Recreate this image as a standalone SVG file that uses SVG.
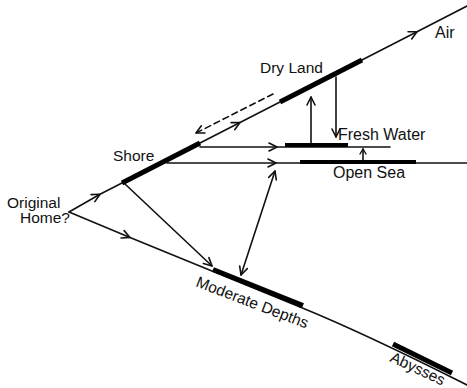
<svg xmlns="http://www.w3.org/2000/svg" width="467" height="388" viewBox="0 0 467 388">
<style>
.ln{fill:none;stroke:#111;stroke-width:1.6;stroke-linecap:round;stroke-linejoin:round}
.bar{fill:none;stroke:#000;stroke-width:5;stroke-linecap:butt}
.dash{stroke-dasharray:6 4}
text{font-family:"Liberation Sans","DejaVu Sans",sans-serif;font-size:15.5px;fill:#111}
.big{font-size:16px}
</style>
<defs>
<marker id="ah" markerUnits="userSpaceOnUse" markerWidth="12" markerHeight="12" refX="0" refY="0" viewBox="-10 -6 12 12" orient="auto-start-reverse" overflow="visible">
<path d="M-8,-4 L0,0 L-8,4" fill="none" stroke="#111" stroke-width="1.6" stroke-linecap="round" stroke-linejoin="round"/>
</marker>
<marker id="ahs" markerUnits="userSpaceOnUse" markerWidth="8" markerHeight="8" viewBox="-6 -4 8 8" orient="auto" overflow="visible">
<path d="M-5,-3 L0,0 L-5,3" fill="none" stroke="#111" stroke-width="1.4" stroke-linecap="round"/>
</marker>
</defs>
<g id="connectors">
<path class="ln" d="M69,212 L100,194.3 L240,122.5 L417,31.7 L467,6" marker-mid="url(#ah)"/>
<path class="ln" d="M69,212 L130,237.4 L300,307" marker-mid="url(#ah)"/>
<path class="ln" d="M300,307 Q365,333.5 467,385"/>
<path class="ln" d="M200,147 L277,147 L390,147" marker-mid="url(#ah)"/>
<path class="ln" d="M167,163 L276,163 L467,163" marker-mid="url(#ah)"/>
<path class="ln dash" d="M273,94 L196,133" marker-end="url(#ah)"/>
<path class="ln" d="M311,143 L311,97" marker-end="url(#ah)"/>
<path class="ln" d="M336,77 L336,137" marker-end="url(#ah)"/>
<path class="ln" d="M363,160 L363,149" marker-end="url(#ahs)"/>
<path class="ln" d="M275,171 L241,275" marker-start="url(#ah)" marker-end="url(#ah)"/>
<path class="ln" d="M125,184 L212,266" marker-end="url(#ah)"/>
</g>
<g id="origin"><text x="7" y="208">Original</text><text x="20" y="223">Home?</text></g>
<g id="shore"><path class="bar" d="M122,183 L200,143"/><text x="113" y="161">Shore</text></g>
<g id="dryland"><path class="bar" d="M280,102 L362,60"/><text x="260" y="73">Dry Land</text></g>
<g id="air"><text class="big" x="435" y="38">Air</text></g>
<g id="freshwater"><rect x="285" y="143" width="63" height="4" fill="#000"/><text class="big" x="338" y="140">Fresh Water</text></g>
<g id="opensea"><rect x="300" y="160" width="116" height="4" fill="#000"/><text class="big" x="333" y="178">Open Sea</text></g>
<g id="moderate"><path class="bar" d="M213,269.5 L303,305.5"/><text transform="translate(195,286) rotate(21)">Moderate Depths</text></g>
<g id="abysses"><path class="bar" d="M393,344 L452,373"/><text transform="translate(389,361) rotate(25)">Abysses</text></g>
</svg>
